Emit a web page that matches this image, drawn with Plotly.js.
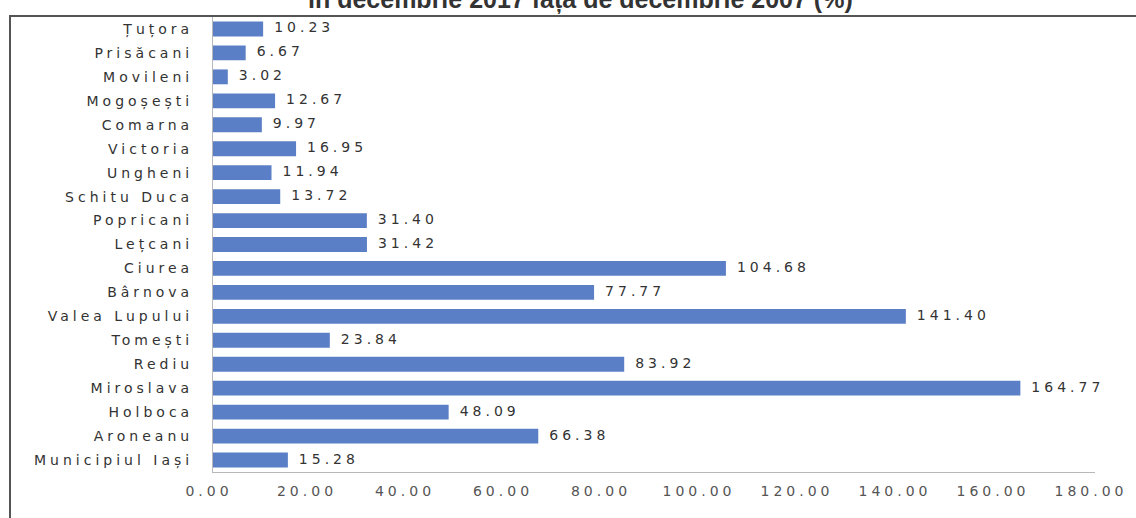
<!DOCTYPE html>
<html>
<head>
<meta charset="utf-8">
<script src="https://cdn.plot.ly/plotly-3.0.1.min.js"></script>
<style>
  html, body { margin: 0; padding: 0; background: #fff; }
  #chart { width: 1136px; height: 518px; }
  .ytick text, .xtick text, .textpoint text { letter-spacing: 4px; }
</style>
</head>
<body>
<div id="chart"></div>
<script>
// Data (top to bottom, as in the reference)
const categories = [
  "Țuțora", "Prisăcani", "Movileni", "Mogoșești", "Comarna", "Victoria",
  "Ungheni", "Schitu Duca", "Popricani", "Lețcani", "Ciurea", "Bârnova",
  "Valea Lupului", "Tomești", "Rediu", "Miroslava", "Holboca", "Aroneanu",
  "Municipiul Iași"
];
const values = [
  10.23, 6.67, 3.02, 12.67, 9.97, 16.95,
  11.94, 13.72, 31.40, 31.42, 104.68, 77.77,
  141.40, 23.84, 83.92, 164.77, 48.09, 66.38,
  15.28
];
const tickValues = [0, 20, 40, 60, 80, 100, 120, 140, 160, 180];
const tickLabels = ["0.00", "20.00", "40.00", "60.00", "80.00", "100.00", "120.00", "140.00", "160.00", "180.00"];
const titleText = "în decembrie 2017 față de decembrie 2007 (%)";

const W = 1136, H = 518;
const L = 213, R = 41, T = 17, B = 46;
const pw = W - L - R, ph = H - T - B;
const px = v => (v - L) / pw;          // pixel x -> paper x
const py = v => (H - B - v) / ph;      // pixel y -> paper y

const bars = {
  type: "bar",
  orientation: "h",
  x: values,
  y: categories,
  marker: { color: "#5b7fc6" },
  hoverinfo: "skip",
  showlegend: false
};

const labels = {
  type: "scatter",
  mode: "text",
  x: values,
  y: categories,
  text: values.map(v => "\u2002" + v.toFixed(2)),
  textposition: "middle right",
  textfont: { family: "DejaVu Sans", size: 14, color: "#333" },
  hoverinfo: "skip",
  showlegend: false,
  cliponaxis: false
};

const layout = {
  width: W, height: H,
  margin: { l: L, r: R, t: T, b: B, pad: 0 },
  paper_bgcolor: "#fff",
  plot_bgcolor: "#fff",
  bargap: 0.38,
  font: { family: "DejaVu Sans", size: 14, color: "#333" },
  xaxis: {
    range: [0, 180],
    tickmode: "array",
    tickvals: tickValues,
    ticktext: tickLabels,
    showgrid: false,
    zeroline: false,
    showline: true,
    linecolor: "#b8b8b8",
    linewidth: 1,
    ticks: "",
    ticklabelstandoff: 6,
    ticklabelshift: -4,
    tickfont: { family: "DejaVu Sans", size: 14, color: "#555" },
    fixedrange: true
  },
  yaxis: {
    type: "category",
    range: [categories.length - 0.5, -0.5],
    showgrid: false,
    zeroline: false,
    showline: true,
    linecolor: "#b8b8b8",
    linewidth: 1,
    ticks: "",
    ticklabelstandoff: 16,
    tickfont: { family: "DejaVu Sans", size: 14, color: "#333" },
    fixedrange: true
  },
  annotations: [{
    text: "<b>" + titleText + "</b>",
    xref: "paper", yref: "paper",
    x: px(579), y: py(16.5),
    xanchor: "center", yanchor: "bottom",
    showarrow: false,
    font: { family: "Liberation Sans", size: 25, color: "#333" }
  }],
  shapes: [
    { type: "line", xref: "paper", yref: "paper",
      x0: px(9), x1: px(1136), y0: py(16), y1: py(16),
      line: { color: "#555", width: 2 } },
    { type: "line", xref: "paper", yref: "paper",
      x0: px(10), x1: px(10), y0: py(16), y1: py(520),
      line: { color: "#555", width: 2 } }
  ]
};

Plotly.newPlot("chart", [bars, labels], layout, { displayModeBar: false, staticPlot: true });
</script>
</body>
</html>
